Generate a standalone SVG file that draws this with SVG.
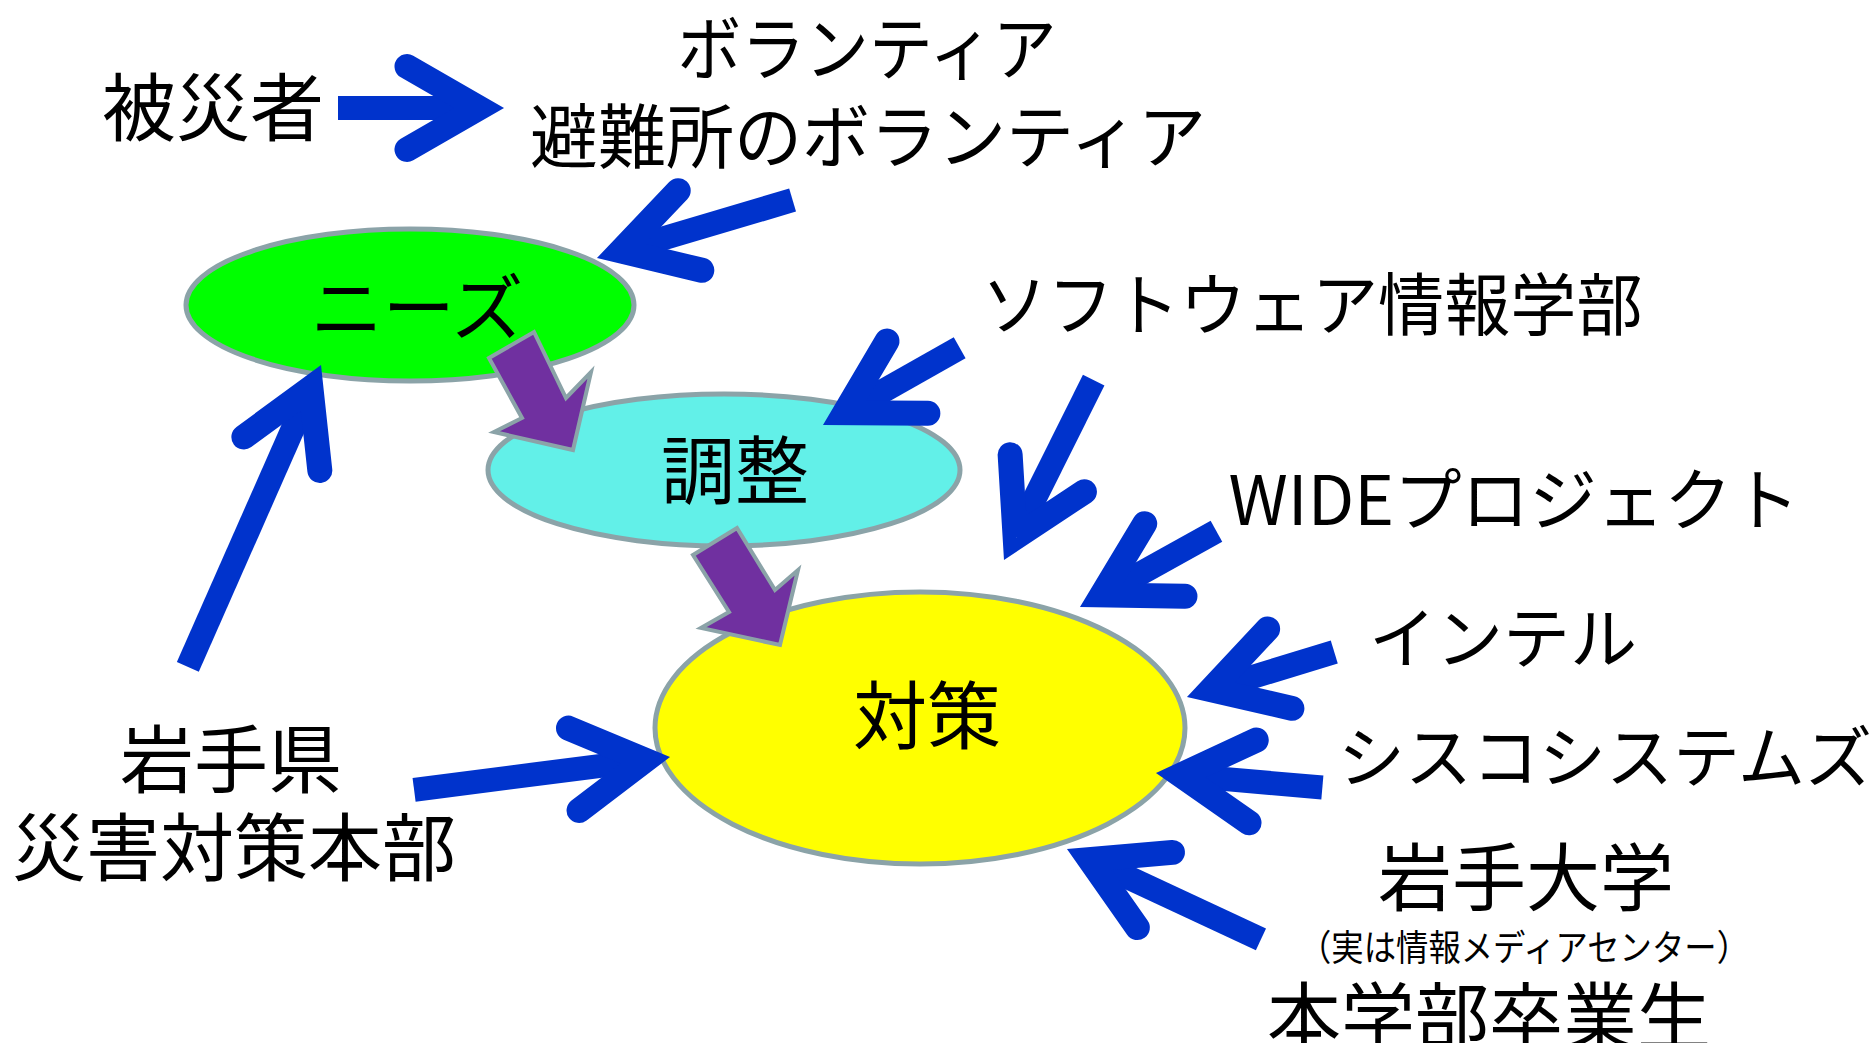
<svg xmlns="http://www.w3.org/2000/svg" xmlns:xlink="http://www.w3.org/1999/xlink" width="1873" height="1043" viewBox="0 0 1873 1043">
<style>
.t{font-family:"Noto Sans CJK JP","Noto Sans CJK SC",sans-serif;fill:#000;text-anchor:middle;dominant-baseline:central}
.big{font-size:74px}
.ell{stroke:#8BA3A8;stroke-width:5}
.shaft{stroke:#0033CC;stroke-width:24;stroke-linecap:butt}
.blk{fill:#7030A0;stroke:#8BA3A8;stroke-width:4;stroke-linejoin:miter}
</style>
<defs>
<g id="head"><polyline points="-97,-41.5 -25,0 -97,41.5" fill="none" stroke="#0033CC" stroke-width="25" stroke-linecap="round" stroke-linejoin="miter" stroke-miterlimit="10"/></g>
</defs>
<rect width="1873" height="1043" fill="#fff"/>
<g id="nodes">
<g id="n-needs"><ellipse class="ell" cx="410" cy="305" rx="224" ry="76" fill="#00FF00"/><text class="t" x="417" y="302" font-size="72">ニーズ</text></g>
<g id="n-chosei"><ellipse class="ell" cx="724" cy="470" rx="236" ry="76" fill="#62F0E8"/><text class="t big" x="735" y="465">調整</text></g>
<g id="n-taisaku"><ellipse class="ell" cx="920" cy="728" rx="265" ry="136" fill="#FFFF00"/><text class="t big" x="927" y="710">対策</text></g>
<g id="n-hisaisha"><text class="t big" x="213" y="102">被災者</text></g>
<g id="n-volunteer"><text class="t" x="867" y="44" font-size="70" textLength="379" lengthAdjust="spacingAndGlyphs">ボランティア</text><text class="t" x="868" y="132" font-size="70" textLength="676" lengthAdjust="spacingAndGlyphs">避難所のボランティア</text></g>
<g id="n-iwateken"><text class="t big" x="231" y="754">岩手県</text><text class="t big" x="234" y="842">災害対策本部</text></g>
<g id="n-soft"><text class="t" x="1312" y="300" font-size="68" textLength="661" lengthAdjust="spacingAndGlyphs">ソフトウェア情報学部</text></g>
<g id="n-wide"><text class="t" x="1514" y="495" font-size="68" textLength="571" lengthAdjust="spacingAndGlyphs">WIDEプロジェクト</text></g>
<g id="n-intel"><text class="t" x="1503" y="633" font-size="67">インテル</text></g>
<g id="n-cisco"><text class="t" x="1605" y="752" font-size="67">シスコシステムズ</text></g>
<g id="n-iwatedai"><text class="t big" x="1526" y="872">岩手大学</text><text class="t" x="1524" y="945" font-size="36" textLength="450" lengthAdjust="spacingAndGlyphs">（実は情報メディアセンター）</text><text class="t big" x="1489" y="1011">本学部卒業生</text></g>
</g>
<g id="connectors">
<polygon class="blk" points="489,358 534,332 566,398 591,372 573,450 494,432 522,418"/>
<polygon class="blk" points="693,555 737,528 775,590 798,570 780,645 701,628 729,612"/>
<g transform="translate(504,108) rotate(0)"><line class="shaft" x1="-166" y1="0" x2="-30" y2="0"/><use xlink:href="#head"/></g>
<g transform="translate(597,258) rotate(163.5)"><line class="shaft" x1="-204" y1="0" x2="-30" y2="0"/><use xlink:href="#head"/></g>
<g transform="translate(321,365) rotate(-66.2)"><line class="shaft" x1="-330" y1="0" x2="-30" y2="0"/><use xlink:href="#head"/></g>
<g transform="translate(670,757) rotate(-7.3)"><line class="shaft" x1="-258" y1="0" x2="-30" y2="0"/><use xlink:href="#head"/></g>
<g transform="translate(823,425) rotate(150.5)"><line class="shaft" x1="-157" y1="0" x2="-30" y2="0"/><use xlink:href="#head"/></g>
<g transform="translate(1004,560) rotate(116.5)"><line class="shaft" x1="-201" y1="0" x2="-30" y2="0"/><use xlink:href="#head"/></g>
<g transform="translate(1080,607) rotate(151)"><line class="shaft" x1="-156" y1="0" x2="-30" y2="0"/><use xlink:href="#head"/></g>
<g transform="translate(1187,697) rotate(163)"><line class="shaft" x1="-154" y1="0" x2="-30" y2="0"/><use xlink:href="#head"/></g>
<g transform="translate(1156,773) rotate(185)"><line class="shaft" x1="-167" y1="0" x2="-30" y2="0"/><use xlink:href="#head"/></g>
<g transform="translate(1067,849) rotate(205)"><line class="shaft" x1="-214" y1="0" x2="-30" y2="0"/><use xlink:href="#head"/></g>
</g>
</svg>
